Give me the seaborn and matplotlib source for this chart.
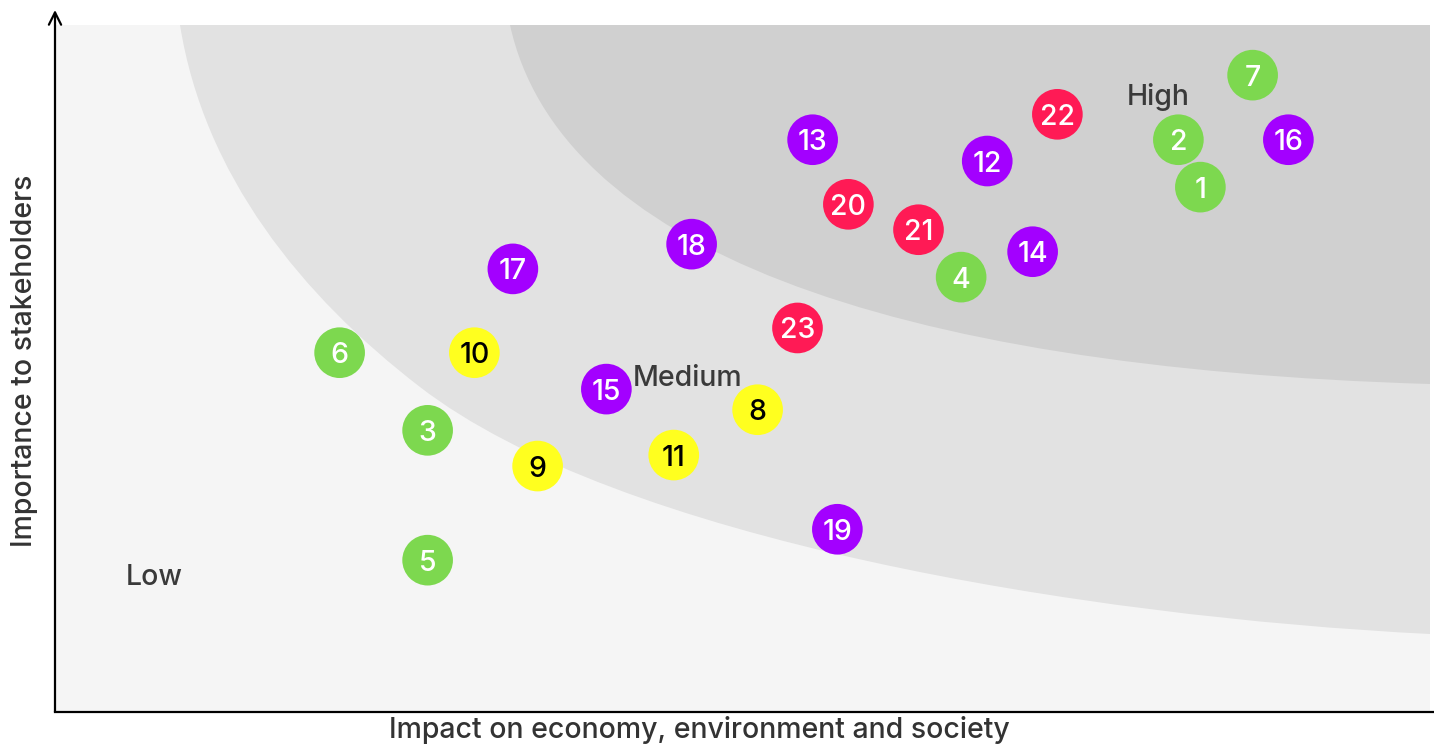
import matplotlib
matplotlib.use("Agg")
import matplotlib.pyplot as plt
from matplotlib.path import Path
from matplotlib.patches import PathPatch, Rectangle
import seaborn as sns
import pandas as pd

# ---- data ----
ids = [str(i) for i in range(1, 24)]
impact = [83.3, 81.7, 27.1, 65.9, 27.1, 20.7, 87.1, 51.1, 35.1, 30.5, 45.0,
          67.8, 55.1, 71.1, 40.1, 89.7, 33.3, 46.3, 56.9, 57.7, 62.8, 72.9, 54.0]
importance = [76.4, 83.3, 41.0, 63.3, 22.1, 52.3, 92.7, 44.0, 35.8, 52.3, 37.4,
              80.2, 83.3, 67.0, 47.0, 83.3, 64.5, 68.1, 26.6, 73.9, 70.2, 87.0, 55.9]
groups = ["green"] * 7 + ["yellow"] * 4 + ["purple"] * 8 + ["red"] * 4
zone_labels = ["Low", "Medium", "High"]
zone_x = [7.2, 46.0, 80.2]
zone_y = [19.6, 48.5, 89.5]
x_title = "Impact on economy, environment and society"
y_title = "Importance to stakeholders"

palette = {"green": "#7dd84f", "yellow": "#ffff1f", "purple": "#a300ff", "red": "#ff1a55"}
text_col = {"green": "white", "yellow": "black", "purple": "white", "red": "white"}

df = pd.DataFrame({"id": ids, "impact": impact, "importance": importance, "group": groups})

sns.set_theme(style="white")
plt.rcParams["font.family"] = ["Inter", "DejaVu Sans"]

W, H = 1434, 744
fig = plt.figure(figsize=(W / 100, H / 100), dpi=100)
# axes spans from pixel x=55..1434, y=10..712
ax = fig.add_axes([55 / W, (H - 712) / H, (W - 55) / W, (712 - 10) / H])
sx = 1375 / 100.0   # px per data unit (x)
sy = 687 / 100.0    # px per data unit (y)
ax.set_xlim(0, (W - 55) / sx)
ax.set_ylim(0, (712 - 10) / sy)


def p2d(px, py):
    return ((px - 55) / sx, (712 - py) / sy)


# background zones
ax.add_patch(Rectangle((0, 0), 100, 100, facecolor="#f5f5f5", edgecolor="none", zorder=0))

med_pts_px = [(180, 25),
              (204, 175), (301, 295.5), (420, 387),
              (618, 539.5), (1080, 616.5), (1430, 634),
              (1430, 25), (180, 25)]
med_codes = [Path.MOVETO, Path.CURVE4, Path.CURVE4, Path.CURVE4,
             Path.CURVE4, Path.CURVE4, Path.CURVE4, Path.LINETO, Path.CLOSEPOLY]
ax.add_patch(PathPatch(Path([p2d(*p) for p in med_pts_px], med_codes),
                       facecolor="#e2e2e2", edgecolor="none", zorder=1))

dark_pts_px = [(510, 25), (558.4, 245), (880, 367.5), (1430, 384),
               (1430, 25), (510, 25)]
dark_codes = [Path.MOVETO, Path.CURVE4, Path.CURVE4, Path.CURVE4,
              Path.LINETO, Path.CLOSEPOLY]
ax.add_patch(PathPatch(Path([p2d(*p) for p in dark_pts_px], dark_codes),
                       facecolor="#d0d0d0", edgecolor="none", zorder=2))

# bubbles
sns.scatterplot(data=df, x="impact", y="importance", hue="group", palette=palette,
                s=1330, linewidth=0, legend=False, ax=ax, zorder=5)
for _, r in df.iterrows():
    ax.text(r["impact"], r["importance"], r["id"], ha="center", va="center_baseline",
            fontsize=20.5, fontweight="medium", color=text_col[r["group"]], zorder=6)

for lab, zx, zy in zip(zone_labels, zone_x, zone_y):
    ax.text(zx, zy, lab, ha="center", va="center", fontsize=20.5, fontweight="medium",
            color="#3a3a3a", zorder=4)

# axes styling
for side in ["top", "right", "left"]:
    ax.spines[side].set_visible(False)
ax.spines["bottom"].set_color("black")
ax.spines["bottom"].set_linewidth(1.6)
ax.set_xticks([])
ax.set_yticks([])
ax.annotate("", xy=(0, (712 - 10) / sy), xytext=(0, 0),
            arrowprops=dict(arrowstyle="->", lw=1.6, color="black",
                            shrinkA=0, shrinkB=0, mutation_scale=22),
            annotation_clip=False, zorder=10)

ax.set_xlabel(x_title, fontsize=20.5, fontweight="medium", color="#333333", labelpad=2)
ax.xaxis.set_label_coords((699 - 55) / (W - 55), -0.006, transform=ax.transAxes)
ax.xaxis.label.set_verticalalignment("top")
ax.set_ylabel(y_title, fontsize=20.5, fontweight="medium", color="#333333", labelpad=12)

fig.savefig("out.png", dpi=100)
